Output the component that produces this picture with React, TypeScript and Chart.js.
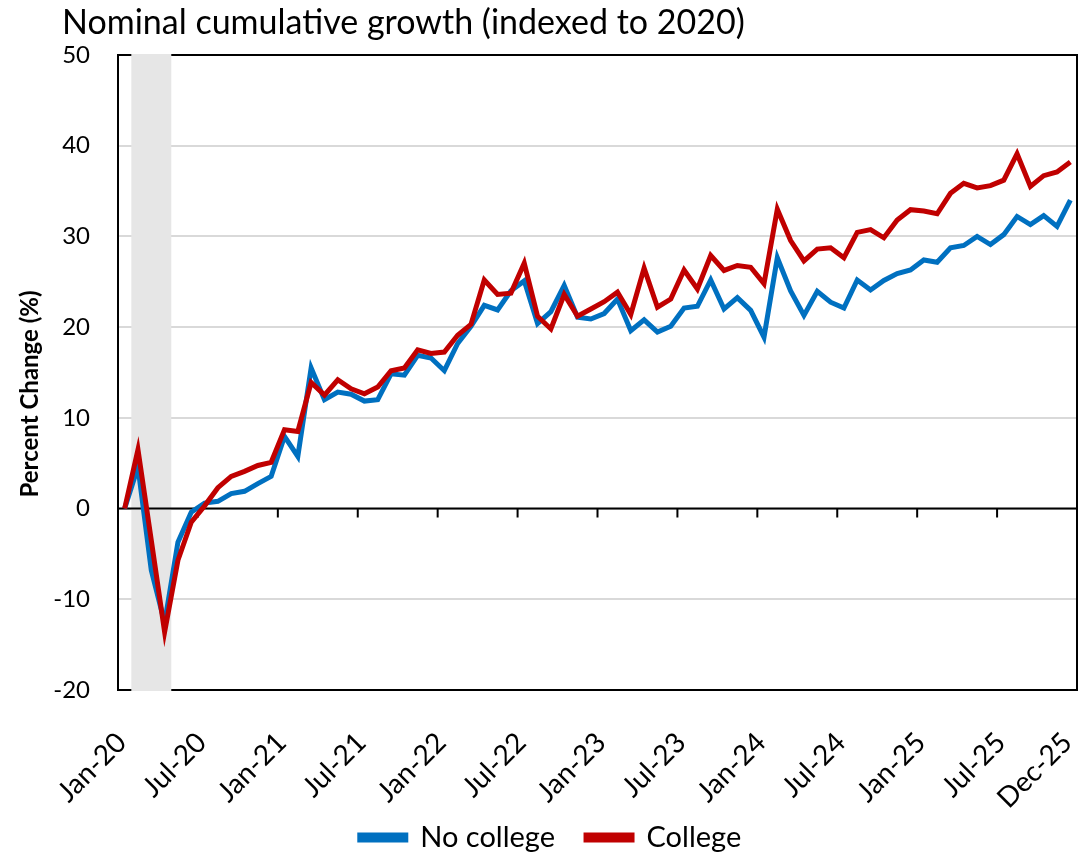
import React, { useEffect, useRef } from "react";
import { Chart, registerables } from "chart.js";

Chart.register(...registerables);

const tickLabels = [
  "Jan-20", "Jul-20", "Jan-21", "Jul-21", "Jan-22", "Jul-22", "Jan-23",
  "Jul-23", "Jan-24", "Jul-24", "Jan-25", "Jul-25", "Dec-25",
];
// month index (0 = Jan-20) of each labelled category
const labelMonths = [0, 6, 12, 18, 24, 30, 36, 42, 48, 54, 60, 66, 71];

const noCollege = [
  0, 4.6, -6.8, -12.6, -3.7, -0.4, 0.6, 0.8, 1.65, 1.9, 2.75, 3.55,
  7.95, 5.75, 15.5, 12.0, 12.85, 12.6, 11.85, 12.0, 14.85, 14.7, 16.9, 16.6,
  15.2, 18.2, 20.1, 22.4, 21.9, 24.0, 25.1, 20.4, 21.7, 24.6, 21.1, 20.9,
  21.5, 23.1, 19.6, 20.8, 19.45, 20.1, 22.1, 22.3, 25.2, 22.0, 23.25, 21.85,
  18.9, 27.65, 24.0, 21.3, 23.95, 22.75, 22.1, 25.2, 24.1, 25.15, 25.9, 26.3,
  27.4, 27.15, 28.75, 29.0, 30.0, 29.1, 30.2, 32.2, 31.3, 32.3, 31.1, 34.0,
];

const college = [
  0, 6.5, -3.5, -13.6, -5.7, -1.5, 0.3, 2.3, 3.55, 4.1, 4.75, 5.1,
  8.7, 8.5, 13.9, 12.5, 14.2, 13.2, 12.65, 13.4, 15.2, 15.5, 17.5, 17.1,
  17.25, 19.1, 20.3, 25.2, 23.6, 23.75, 27.05, 21.2, 19.8, 23.6, 21.2, 22.0,
  22.8, 23.85, 21.4, 26.5, 22.2, 23.1, 26.3, 24.2, 27.9, 26.25, 26.8, 26.6,
  24.8, 33.0, 29.55, 27.3, 28.6, 28.75, 27.65, 30.45, 30.75, 29.85, 31.8, 32.95,
  32.8, 32.5, 34.75, 35.85, 35.35, 35.6, 36.2, 39.1, 35.5, 36.7, 37.1, 38.2,
];

// recession shading: Feb-20 through Apr-20 (month slots)
const recessionStart = 1;
const recessionEnd = 4;

const MONTHS = 72;
const TICK_EVERY = 6;

const FONT = "Lato, 'Open Sans', sans-serif";

const toPoints = (vals: number[]) => vals.map((v, i) => ({ x: i + 0.5, y: v }));

const decorPlugin = {
  id: "decor",
  beforeDatasetsDraw(chart: any) {
    const { ctx, chartArea: a, scales } = chart;
    const x = scales.x;
    const y = scales.y;
    ctx.save();
    ctx.strokeStyle = "#000";
    ctx.lineWidth = 2;
    ctx.strokeRect(a.left, a.top, a.right - a.left, a.bottom - a.top);
    const bx0 = x.getPixelForValue(recessionStart);
    const bx1 = x.getPixelForValue(recessionEnd);
    ctx.fillStyle = "#e6e6e6";
    ctx.fillRect(bx0, a.top - 1, bx1 - bx0, a.bottom - a.top + 2);
    const y0 = y.getPixelForValue(0);
    ctx.strokeStyle = "#000";
    ctx.lineWidth = 2;
    ctx.beginPath();
    ctx.moveTo(a.left, y0);
    ctx.lineTo(a.right, y0);
    ctx.stroke();
    ctx.beginPath();
    for (let m = 0; m <= MONTHS; m += TICK_EVERY) {
      const px = x.getPixelForValue(m);
      ctx.moveTo(px, y0);
      ctx.lineTo(px, y0 + 9);
    }
    ctx.stroke();
    ctx.restore();
  },
  afterDraw(chart: any) {
    const { ctx, chartArea: a, scales } = chart;
    const x = scales.x;
    ctx.save();
    ctx.fillStyle = "#000";
    // x-axis category labels, rotated 45 degrees
    ctx.font = `28px ${FONT}`;
    ctx.textAlign = "right";
    ctx.textBaseline = "middle";
    labelMonths.forEach((m, i) => {
      const px = x.getPixelForValue(m + 0.5);
      ctx.save();
      ctx.translate(px - 3, a.bottom + 48);
      ctx.rotate(-Math.PI / 4);
      ctx.fillText(tickLabels[i], 0, 0);
      ctx.restore();
    });
    // chart title
    ctx.textBaseline = "alphabetic";
    ctx.textAlign = "left";
    ctx.font = `34px ${FONT}`;
    ctx.fillText("Nominal cumulative growth (indexed to 2020)", 62, 34);
    // y-axis title
    ctx.translate(38, 394);
    ctx.rotate(-Math.PI / 2);
    ctx.textAlign = "center";
    ctx.font = `bold 24px ${FONT}`;
    ctx.fillText("Percent Change (%)", 0, 0);
    ctx.restore();
  },
};

export default function App() {
  const ref = useRef<HTMLCanvasElement | null>(null);

  useEffect(() => {
    document.body.style.margin = "0";
    const canvas = ref.current;
    if (!canvas) return;
    const chart = new Chart(canvas, {
      type: "line",
      data: {
        datasets: [
          {
            label: "No college",
            data: toPoints(noCollege),
            borderColor: "#0070C0",
            backgroundColor: "#0070C0",
            borderWidth: 5,
            pointRadius: 0,
            tension: 0,
            order: 1,
          },
          {
            label: "College",
            data: toPoints(college),
            borderColor: "#C00000",
            backgroundColor: "#C00000",
            borderWidth: 5,
            pointRadius: 0,
            tension: 0,
            order: 0,
          },
        ],
      },
      plugins: [decorPlugin],
      options: {
        animation: false,
        responsive: false,
        maintainAspectRatio: false,
        layout: { padding: { top: 55, right: 1, left: 24, bottom: -6 } },
        scales: {
          x: {
            type: "linear",
            min: 0,
            max: MONTHS,
            border: { display: false },
            grid: { display: false, drawTicks: false },
            afterBuildTicks: (s: any) => {
              s.ticks = labelMonths.map((m) => ({ value: m + 0.5 }));
            },
            afterFit: (s: any) => {
              s.height = 102;
              s.paddingLeft = 0;
              s.paddingRight = 0;
            },
            ticks: {
              display: false,
              autoSkip: false,
              callback: (_v: any, i: number) => tickLabels[i] ?? "",
            },
          },
          y: {
            min: -20,
            max: 50,
            border: { display: false },
            grid: { color: "#d9d9d9", lineWidth: 2, drawTicks: false },
            afterFit: (s: any) => {
              s.width = 94;
            },
            ticks: {
              stepSize: 10,
              padding: 28,
              color: "#000",
              font: { family: FONT, size: 24 },
            },
          },
        },
        plugins: {
          title: { display: false },
          tooltip: { enabled: false },
          legend: {
            position: "bottom",
            reverse: true,
            labels: {
              color: "#000",
              boxWidth: 46,
              boxHeight: 5,
              padding: 31,
              font: { family: FONT, size: 29 },
            },
          },
        },
      },
    });
    return () => chart.destroy();
  }, []);

  return (
    <div style={{ width: 1078, height: 856 }}>
      <canvas ref={ref} width={1078} height={856} style={{ width: 1078, height: 856, display: "block" }} />
    </div>
  );
}
